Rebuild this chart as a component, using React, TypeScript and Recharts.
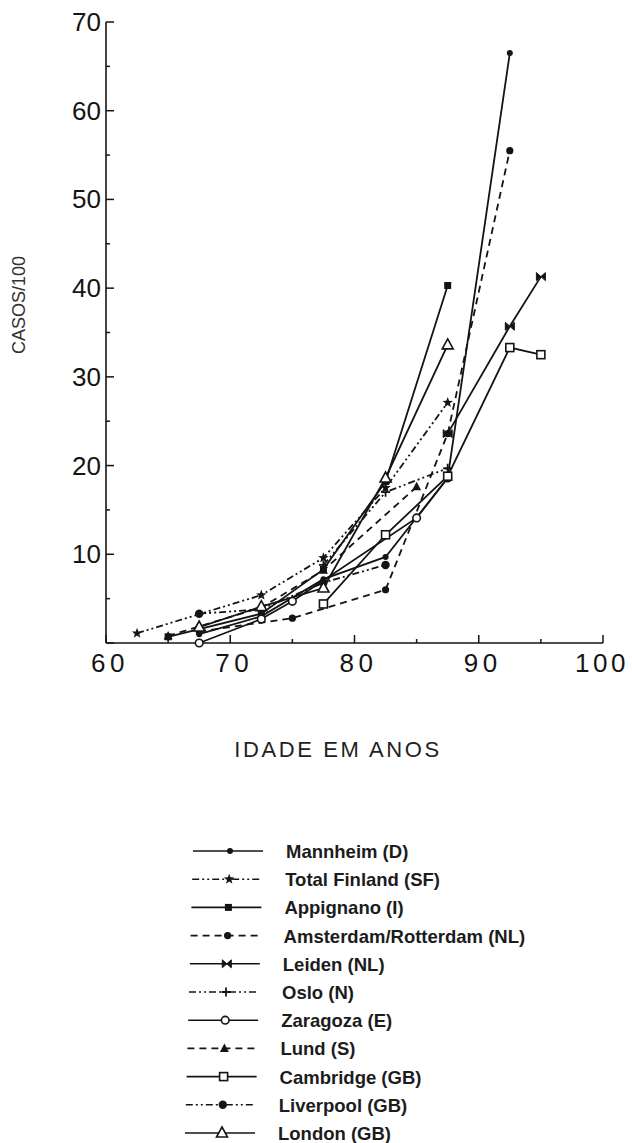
import React from 'react';
import { LineChart, Line, XAxis, YAxis } from 'recharts';

document.body.style.margin = '0';

type Pt = { x: number; y: number };

// idade (ponto médio do grupo) -> casos por 100
const mannheim: Pt[] = [
  { x: 67.5, y: 1.0 }, { x: 72.5, y: 3.0 }, { x: 77.5, y: 7.2 },
  { x: 82.5, y: 9.7 }, { x: 87.5, y: 18.6 }, { x: 92.5, y: 66.5 },
];
const finland: Pt[] = [
  { x: 62.5, y: 1.1 }, { x: 72.5, y: 5.4 }, { x: 77.5, y: 9.6 },
  { x: 82.5, y: 17.5 }, { x: 87.5, y: 27.1 },
];
const appignano: Pt[] = [
  { x: 65, y: 0.7 }, { x: 72.5, y: 3.3 }, { x: 77.5, y: 8.3 },
  { x: 82.5, y: 18.2 }, { x: 87.5, y: 40.3 },
];
const amsterdam: Pt[] = [
  { x: 67.5, y: 1.3 }, { x: 75, y: 2.8 }, { x: 82.5, y: 6.0 },
  { x: 87.5, y: 23.6 }, { x: 92.5, y: 55.5 },
];
const leiden: Pt[] = [{ x: 87.5, y: 23.6 }, { x: 92.5, y: 35.7 }, { x: 95, y: 41.3 }];
const oslo: Pt[] = [{ x: 77.5, y: 8.8 }, { x: 82.5, y: 17.0 }, { x: 87.5, y: 19.7 }];
const zaragoza: Pt[] = [
  { x: 67.5, y: 0.0 }, { x: 72.5, y: 2.7 }, { x: 75, y: 4.7 },
  { x: 85, y: 14.1 }, { x: 87.5, y: 18.6 },
];
const lund: Pt[] = [{ x: 65, y: 0.8 }, { x: 72.5, y: 4.0 }, { x: 77.5, y: 8.2 }, { x: 85, y: 17.6 }];
const cambridge: Pt[] = [
  { x: 77.5, y: 4.4 }, { x: 82.5, y: 12.2 }, { x: 87.5, y: 18.8 },
  { x: 92.5, y: 33.3 }, { x: 95, y: 32.5 },
];
const liverpool: Pt[] = [{ x: 67.5, y: 3.3 }, { x: 72.5, y: 3.8 }, { x: 77.5, y: 6.8 }, { x: 82.5, y: 8.8 }];
const london: Pt[] = [
  { x: 67.5, y: 1.8 }, { x: 72.5, y: 4.1 }, { x: 77.5, y: 6.2 },
  { x: 82.5, y: 18.6 }, { x: 87.5, y: 33.6 },
];

const xTicks = [60, 65, 70, 75, 80, 85, 90, 95, 100];
const yTicks = [0, 5, 10, 15, 20, 25, 30, 35, 40, 45, 50, 55, 60, 65, 70];

const INK = '#141414';
const FONT = '"Liberation Sans", Arial, sans-serif';
const DASH = '7 5';
const DASHDOT = '7 3 2 3 2 3';
const LW = 1.8;

type Kind = 'dot' | 'star' | 'square' | 'bigdot' | 'bowtie' | 'plus' | 'ring' | 'tri' | 'box' | 'ball' | 'opentri';

const series: { name: string; data: Pt[]; dash?: string; kind: Kind }[] = [
  { name: 'Mannheim (D)', data: mannheim, kind: 'dot' },
  { name: 'Total Finland (SF)', data: finland, dash: DASHDOT, kind: 'star' },
  { name: 'Appignano (I)', data: appignano, kind: 'square' },
  { name: 'Amsterdam/Rotterdam (NL)', data: amsterdam, dash: DASH, kind: 'bigdot' },
  { name: 'Leiden (NL)', data: leiden, kind: 'bowtie' },
  { name: 'Oslo (N)', data: oslo, dash: DASHDOT, kind: 'plus' },
  { name: 'Zaragoza (E)', data: zaragoza, kind: 'ring' },
  { name: 'Lund (S)', data: lund, dash: DASH, kind: 'tri' },
  { name: 'Cambridge (GB)', data: cambridge, kind: 'box' },
  { name: 'Liverpool (GB)', data: liverpool, dash: DASHDOT, kind: 'ball' },
  { name: 'London (GB)', data: london, kind: 'opentri' },
];

function Marker({ kind, cx, cy }: { kind: Kind; cx: number; cy: number }) {
  switch (kind) {
    case 'dot':
      return <circle cx={cx} cy={cy} r={3} fill={INK} />;
    case 'bigdot':
      return <circle cx={cx} cy={cy} r={3.6} fill={INK} />;
    case 'ball':
      return <circle cx={cx} cy={cy} r={4.2} fill={INK} />;
    case 'ring':
      return <circle cx={cx} cy={cy} r={3.8} fill="#fff" stroke={INK} strokeWidth={1.6} />;
    case 'square':
      return <rect x={cx - 3.5} y={cy - 3.5} width={7} height={7} fill={INK} />;
    case 'box':
      return <rect x={cx - 4} y={cy - 4} width={8} height={8} fill="#fff" stroke={INK} strokeWidth={1.6} />;
    case 'tri':
      return <path d={`M${cx},${cy - 5} L${cx + 4.5},${cy + 3.5} L${cx - 4.5},${cy + 3.5} Z`} fill={INK} />;
    case 'opentri':
      return (
        <path
          d={`M${cx},${cy - 6} L${cx + 5.5},${cy + 4} L${cx - 5.5},${cy + 4} Z`}
          fill="#fff"
          stroke={INK}
          strokeWidth={1.6}
        />
      );
    case 'bowtie':
      return (
        <path
          d={`M${cx - 4.5},${cy - 4} L${cx + 4.5},${cy + 4} L${cx + 4.5},${cy - 4} L${cx - 4.5},${cy + 4} Z`}
          fill={INK}
          stroke={INK}
          strokeWidth={1}
        />
      );
    case 'plus':
      return (
        <path
          d={`M${cx - 4.5},${cy} L${cx + 4.5},${cy} M${cx},${cy - 4.5} L${cx},${cy + 4.5}`}
          stroke={INK}
          strokeWidth={1.8}
        />
      );
    case 'star': {
      const pts: string[] = [];
      for (let i = 0; i < 10; i++) {
        const r = i % 2 === 0 ? 5.5 : 2.3;
        const a = -Math.PI / 2 + (i * Math.PI) / 5;
        pts.push(`${cx + r * Math.cos(a)},${cy + r * Math.sin(a)}`);
      }
      return <polygon points={pts.join(' ')} fill={INK} />;
    }
    default:
      return null;
  }
}

const XTick = (props: any) => {
  const { x, y, payload } = props;
  const major = payload.value % 10 === 0;
  const wide = payload.value >= 100;
  return (
    <g>
      <line x1={x} x2={x} y1={y} y2={y - (major ? 8 : 4)} stroke={INK} strokeWidth={1.5} />
      {major && (
        <text
          x={wide ? x - 1 : x + 4}
          y={y + 29}
          textAnchor="middle"
          fontSize={26}
          letterSpacing={wide ? 3.5 : 4.5}
          fontFamily={FONT}
          fill={INK}
        >
          {payload.value}
        </text>
      )}
    </g>
  );
};

const YTick = (props: any) => {
  const { x, y, payload } = props;
  const major = payload.value % 10 === 0;
  return (
    <g>
      <line x1={x} x2={x + (major ? 8 : 4)} y1={y} y2={y} stroke={INK} strokeWidth={1.5} />
      {major && payload.value !== 0 && (
        <text x={x - 5} y={y + 9} textAnchor="end" fontSize={26} fontFamily={FONT} fill={INK}>
          {payload.value}
        </text>
      )}
    </g>
  );
};

function LegendBlock() {
  return (
    <svg width={632} height={313} style={{ position: 'absolute', left: 0, top: 830 }}>
      {series.map((s, i) => {
        const cy = 21 + i * 28.2;
        const shift = -i * 0.8;
        return (
          <g key={s.name}>
            <line
              x1={193 + shift}
              x2={263 + shift}
              y1={cy}
              y2={cy}
              stroke={INK}
              strokeWidth={1.6}
              strokeDasharray={s.dash}
            />
            <Marker kind={s.kind} cx={230 + shift} cy={cy} />
            <text
              x={286 + shift}
              y={cy + 7}
              fontSize={18.5}
              fontWeight="bold"
              fontFamily={FONT}
              fill="#1c1c1c"
            >
              {s.name}
            </text>
          </g>
        );
      })}
    </svg>
  );
}

export default function App() {
  return (
    <div style={{ position: 'relative', width: 632, height: 1143, background: '#fff' }}>
      <LineChart width={632} height={1143} margin={{ top: 22, right: 29, left: 0, bottom: 400 }}>
        <XAxis
          type="number"
          dataKey="x"
          domain={[60, 100]}
          ticks={xTicks}
          allowDataOverflow
          height={100}
          tickLine={false}
          tickSize={0}
          tickMargin={0}
          tick={<XTick />}
          axisLine={{ stroke: INK, strokeWidth: 1.6 }}
          label={{
            content: () => (
              <text
                x={338}
                y={757}
                textAnchor="middle"
                fontSize={22}
                letterSpacing={2.6}
                fontFamily={FONT}
                fill="#222"
              >
                IDADE EM ANOS
              </text>
            ),
          }}
        />
        <YAxis
          type="number"
          domain={[0, 70]}
          ticks={yTicks}
          width={106}
          tickLine={false}
          tickSize={0}
          tickMargin={0}
          tick={<YTick />}
          axisLine={{ stroke: INK, strokeWidth: 1.6 }}
          label={{
            content: () => (
              <text
                x={25}
                y={305}
                transform="rotate(-90 25 305)"
                textAnchor="middle"
                fontSize={18}
                fontFamily={FONT}
                fill="#333"
              >
                CASOS/100
              </text>
            ),
          }}
        />
        {series.map((s) => (
          <Line
            key={s.name}
            data={s.data}
            dataKey="y"
            name={s.name}
            stroke={INK}
            strokeWidth={LW}
            strokeDasharray={s.dash}
            isAnimationActive={false}
            activeDot={false}
            dot={(p: any) => <Marker key={`${s.name}-${p.index}`} kind={s.kind} cx={p.cx} cy={p.cy} />}
          />
        ))}
      </LineChart>
      <LegendBlock />
    </div>
  );
}
